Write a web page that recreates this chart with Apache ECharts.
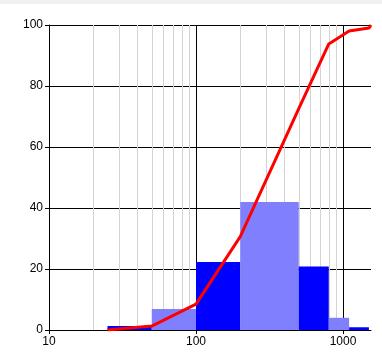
<!DOCTYPE html>
<html><head><meta charset="utf-8">
<script src="https://cdn.jsdelivr.net/npm/echarts@6/dist/echarts.min.js"></script>
<style>html,body{margin:0;padding:0;background:#fff}#c{width:382px;height:360px}</style>
</head><body><div id="c"></div>
<script>
const binStarts = [25, 50, 100, 200, 500, 800, 1100];
const binEnds = [50, 100, 200, 500, 800, 1100, 1500];
const binHeights = [1.3, 6.9, 22.3, 42.0, 20.8, 4.0, 0.9];
const cumX = [25, 50, 100, 200, 500, 800, 1100, 1500, 1550];
const cumY = [0, 1.3, 8.5, 30.6, 72.6, 93.8, 98.0, 99.0, 100];
const xTicks = [10, 100, 1000];
const minorX = [20, 30, 40, 50, 60, 70, 80, 90, 200, 300, 400, 500, 600, 700, 800, 900];
const majorX = [100, 1000];

const barColors = ['#0000ff', '#8080ff'];
const chart = echarts.init(document.getElementById('c'));
const font = {fontFamily: 'Liberation Sans, Arial, sans-serif', fontSize: 12, color: '#000'};
chart.setOption({
  animation: false,
  backgroundColor: '#fff',
  graphic: [{type: 'rect', shape: {x: 0, y: 0, width: 382, height: 4}, style: {fill: '#f0f0f0'}, z: 100}],
  grid: {left: 49, right: 11, top: 25, bottom: 30},
  xAxis: {
    type: 'log', logBase: 10, min: 10, max: 1550,
    axisLine: {show: true, lineStyle: {color: '#000', width: 1}},
    axisTick: {show: true, length: 4, lineStyle: {color: '#000'}, customValues: xTicks},
    axisLabel: Object.assign({margin: 6, customValues: xTicks, formatter: v => String(Math.round(v))}, font),
    splitLine: {show: false}
  },
  yAxis: {
    type: 'value', min: 0, max: 100, interval: 20,
    axisLine: {show: true, onZero: false, lineStyle: {color: '#000', width: 1}},
    axisTick: {show: true, length: 4, lineStyle: {color: '#000'}},
    axisLabel: Object.assign({margin: 6}, font),
    splitLine: {show: true, lineStyle: {color: '#000', width: 1}}
  },
  series: [
    {
      type: 'line', data: [], z: 1, silent: true,
      markLine: {
        silent: true, symbol: 'none', animation: false, z: 1,
        label: {show: false},
        data: minorX.map(v => ({xAxis: v, lineStyle: {color: '#d3d3d3', width: 1, type: 'solid'}}))
          .concat(majorX.map(v => ({xAxis: v, lineStyle: {color: '#000', width: 1, type: 'solid'}})))
      }
    },
    {
      type: 'custom', z: 10,
      encode: {x: [0, 1], y: 2},
      data: binStarts.map((s, i) => [s, binEnds[i], binHeights[i]]),
      renderItem: function (params, api) {
        const p0 = api.coord([api.value(0), api.value(2)]);
        const p1 = api.coord([api.value(1), 0]);
        return {type: 'rect', shape: {x: p0[0], y: p0[1], width: p1[0] - p0[0], height: p1[1] - p0[1]},
          style: {fill: barColors[params.dataIndex % 2]}};
      }
    },
    {
      type: 'line', z: 11, showSymbol: false, symbol: 'none',
      data: cumX.map((x, i) => [x, cumY[i]]),
      lineStyle: {color: '#ff0000', width: 3}
    }
  ]
});
</script></body></html>
